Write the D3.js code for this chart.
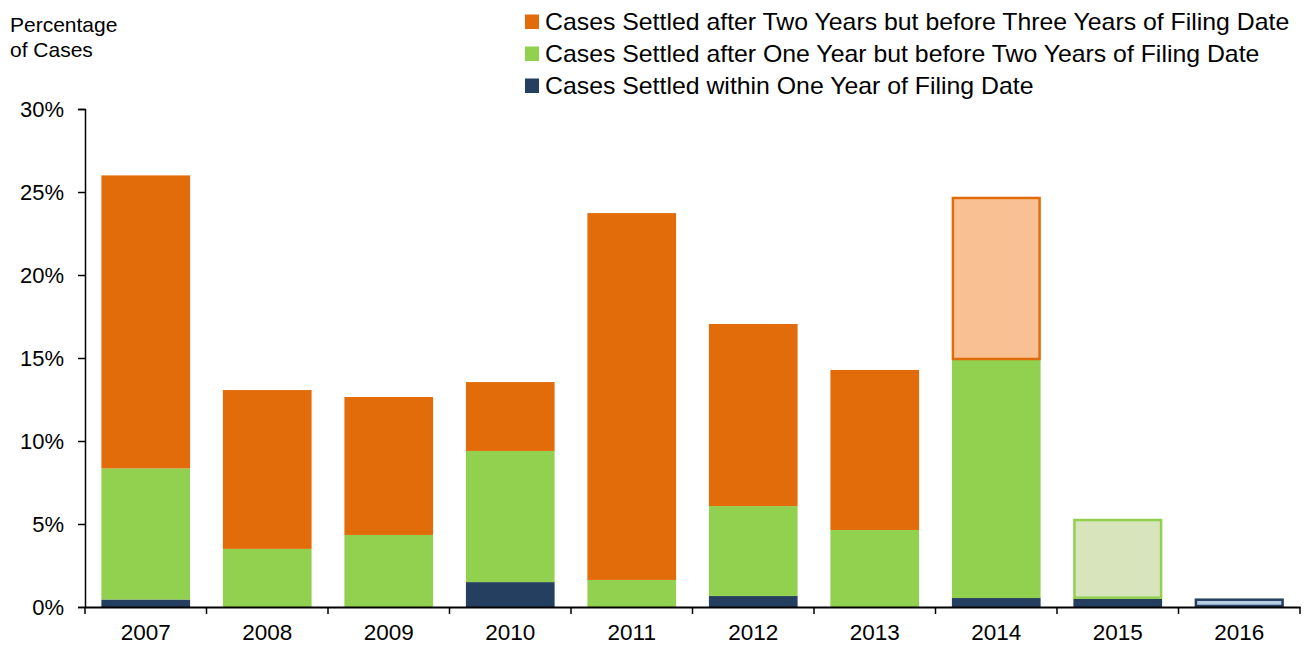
<!DOCTYPE html>
<html>
<head>
<meta charset="utf-8">
<script src="https://cdn.jsdelivr.net/npm/d3@7"></script>
<style>
  body { margin: 0; background: #fff; }
  svg { display: block; font-family: "Liberation Sans", Arial, sans-serif; }
</style>
</head>
<body>
<svg id="chart"></svg>
<script>
const years = ["2007", "2008", "2009", "2010", "2011", "2012", "2013", "2014", "2015", "2016"];
// percentage of cases, per settlement timing
const withinOne  = [0.45, 0,    0,    1.5,  0,     0.66,  0,    0.54,  0.5, 0.5];
const oneToTwo   = [7.9,  3.5,  4.34, 7.9,  1.63,  5.42,  4.64, 14.34, 4.8, 0];
const twoToThree = [17.65, 9.57, 8.31, 4.15, 22.1, 10.97, 9.64, 9.82,  0,   0];
// which series is still incomplete for a given filing year
const partialSeries = ["", "", "", "", "", "", "", "twoToThree", "oneToTwo", "withinOne"];
const yTicks = [0, 5, 10, 15, 20, 25, 30];

const seriesKeys = ["withinOne", "oneToTwo", "twoToThree"];
const legendLabels = {
    twoToThree: "Cases Settled after Two Years but before Three Years of Filing Date",
    oneToTwo: "Cases Settled after One Year but before Two Years of Filing Date",
    withinOne: "Cases Settled within One Year of Filing Date"
};
const fill = { withinOne: "#243F60", oneToTwo: "#92D050", twoToThree: "#E36C0A" };
const lightFill = { withinOne: "#B8CCE4", oneToTwo: "#D8E4BC", twoToThree: "#F9C193" };

const width = 1304, height = 645;
const margin = { top: 109, right: 4, bottom: 38, left: 85 };

const rows = years.map((year, i) => ({
    year,
    withinOne: withinOne[i],
    oneToTwo: oneToTwo[i],
    twoToThree: twoToThree[i],
    partial: partialSeries[i]
}));

const svg = d3.select("#chart")
    .attr("width", width)
    .attr("height", height);

const x = d3.scaleBand()
    .domain(years)
    .range([margin.left, width - margin.right])
    .paddingInner(0.27)
    .paddingOuter(0.135);

const y = d3.scaleLinear()
    .domain([0, 30])
    .range([height - margin.bottom, margin.top]);

const stack = d3.stack().keys(seriesKeys)(rows);

const layer = svg.append("g")
    .selectAll("g")
    .data(stack)
    .join("g");

layer.selectAll("rect")
    .data(s => s.map(d => ({ key: s.key, d })))
    .join("rect")
    .filter(p => p.d[1] - p.d[0] > 0)
    .each(function (p) {
        const isPartial = p.d.data.partial === p.key;
        const r = d3.select(this)
            .attr("x", x(p.d.data.year))
            .attr("y", y(p.d[1]))
            .attr("width", x.bandwidth())
            .attr("height", y(p.d[0]) - y(p.d[1]))
            .attr("fill", isPartial ? lightFill[p.key] : fill[p.key]);
        if (isPartial) {
            r.attr("x", x(p.d.data.year) + 1)
             .attr("y", y(p.d[1]) + 1)
             .attr("width", x.bandwidth() - 2)
             .attr("height", y(p.d[0]) - y(p.d[1]) - 2)
             .attr("stroke", fill[p.key])
             .attr("stroke-width", 2.5);
        }
    });

// y axis
const yAxis = svg.append("g")
    .attr("transform", `translate(${margin.left},0)`)
    .call(d3.axisLeft(y).tickValues(yTicks).tickSize(7).tickPadding(14).tickFormat(d => d + "%"));
yAxis.select(".domain").attr("stroke", "#000").attr("stroke-width", 1.5);
yAxis.selectAll(".tick line").attr("stroke", "#000").attr("stroke-width", 1.5);
yAxis.selectAll(".tick text")
    .attr("font-family", "Liberation Sans, Arial, sans-serif")
    .attr("font-size", 22).attr("fill", "#000");

// x axis: labels centred, ticks between bands
const xAxis = svg.append("g")
    .attr("transform", `translate(0,${y(0)})`)
    .call(d3.axisBottom(x).tickSize(0).tickPadding(17));
xAxis.select(".domain").attr("stroke", "#000").attr("stroke-width", 2);
xAxis.selectAll(".tick text")
    .attr("font-family", "Liberation Sans, Arial, sans-serif")
    .attr("font-size", 22.5).attr("fill", "#000");

const step = x.step();
const bounds = years.map(yr => x(yr) - (step - x.bandwidth()) / 2).concat([width - margin.right]);
xAxis.selectAll(".sep")
    .data(bounds)
    .join("line")
    .attr("class", "sep")
    .attr("x1", d => d).attr("x2", d => d)
    .attr("y1", 0).attr("y2", 7)
    .attr("stroke", "#000").attr("stroke-width", 1.5);

// y title
svg.append("text")
    .attr("x", 10).attr("y", 32)
    .attr("font-size", 21)
    .selectAll("tspan")
    .data(["Percentage", "of Cases"])
    .join("tspan")
    .attr("x", 10)
    .attr("dy", (d, i) => i ? 25 : 0)
    .text(d => d);

// legend
const legendOrder = ["twoToThree", "oneToTwo", "withinOne"];
const legend = svg.append("g")
    .selectAll("g")
    .data(legendOrder)
    .join("g")
    .attr("transform", (d, i) => `translate(525,${14.5 + i * 32})`);
legend.append("rect")
    .attr("width", 14).attr("height", 14.5)
    .attr("fill", d => fill[d]);
legend.append("text")
    .attr("transform", "translate(20,15.5) scale(1.08,1)")
    .attr("font-size", 23)
    .text(d => legendLabels[d]);
</script>
</body>
</html>
